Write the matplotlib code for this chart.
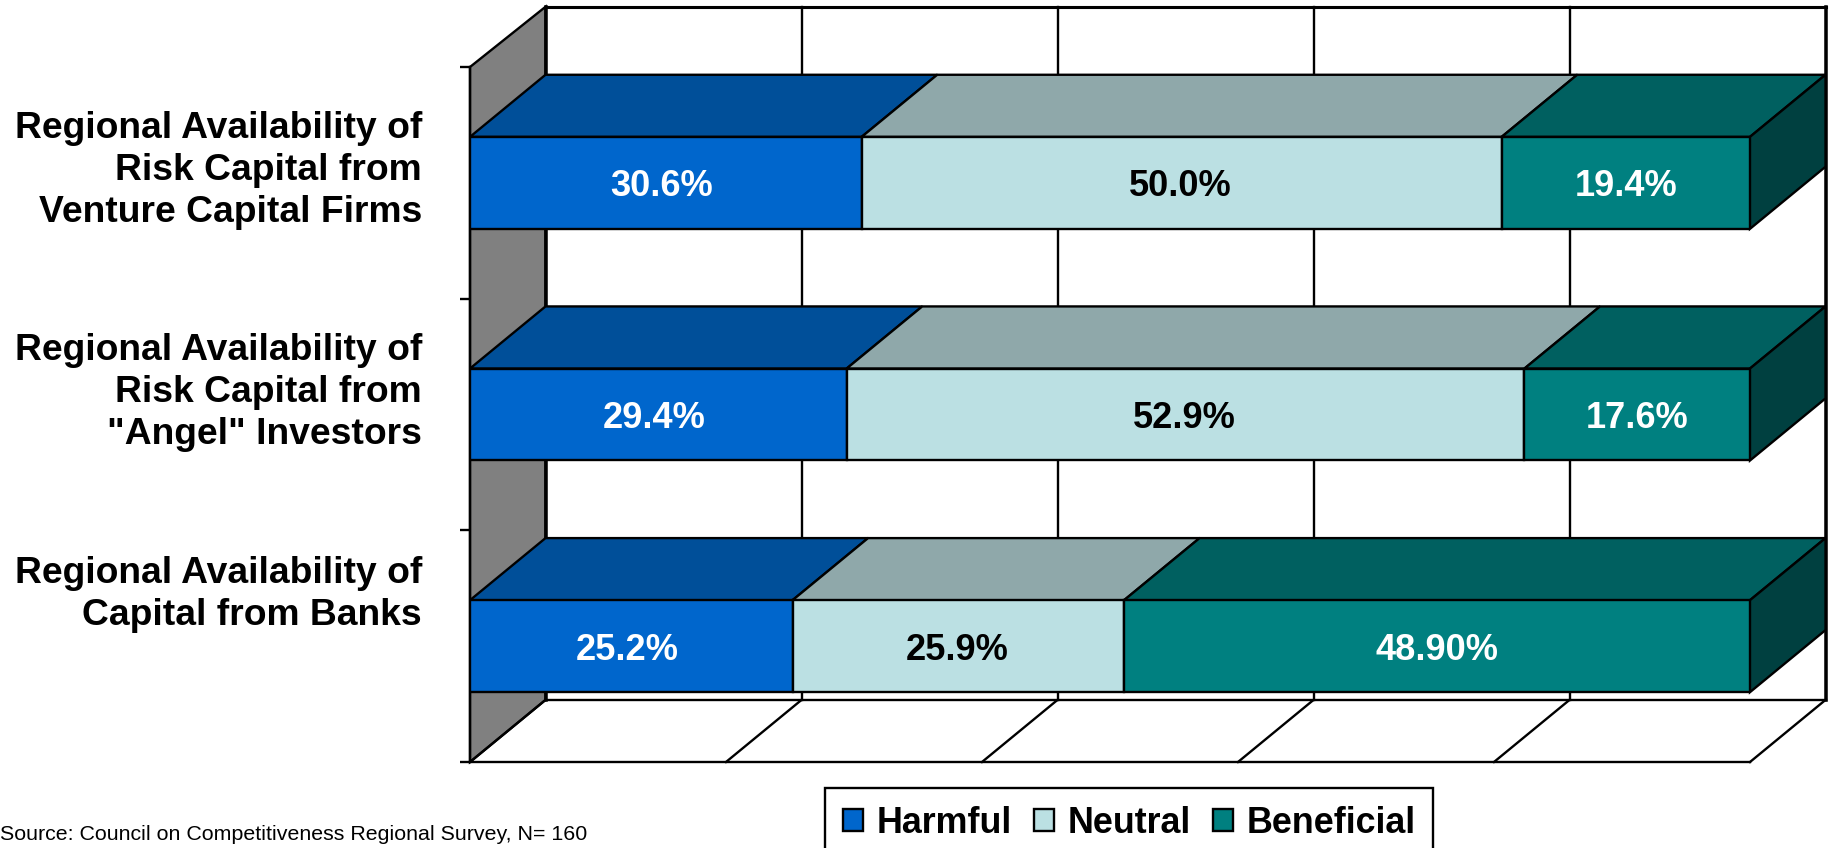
#!/usr/bin/env python
"""
Stacked 3D-look bar chart of how regional capital availability is rated
"""

import matplotlib
matplotlib.use("Agg")
import matplotlib.pyplot as plt
from matplotlib.patches import Polygon, Patch

# data, bottom row first
categories = ["Regional Availability of\nCapital from Banks",
              "Regional Availability of\nRisk Capital from\n\"Angel\" Investors",
              "Regional Availability of\nRisk Capital from\nVenture Capital Firms"]
harmful = [25.2, 29.4, 30.6]
neutral = [25.9, 52.9, 50.0]
beneficial = [48.9, 17.6, 19.4]
harmful_labels = ["25.2%", "29.4%", "30.6%"]
neutral_labels = ["25.9%", "52.9%", "50.0%"]
beneficial_labels = ["48.90%", "17.6%", "19.4%"]
series_names = ["Harmful", "Neutral", "Beneficial"]
percent_ticks = [0, 20, 40, 60, 80, 100]

# colours per series: front, top, text
FRONT = ["#0066CC", "#BBE0E3", "#008080"]
TOP = ["#004F99", "#8FA8AA", "#006060"]
TEXT = ["white", "black", "white"]
SIDE = "#004040"
WALL = "#808080"
# small nudge of the value labels per series
LABEL_SHIFT = [-0.3, -0.12, 0]

# depth of the fake 3D box, in data units
DX = 5.9
DY = 0.268
WALL_TOP = 3.26
BAR_H = 0.397
LW = 1.7
FONT = "Liberation Sans"

W, H = 1831, 848
fig = plt.figure(figsize=(W / 100, H / 100), dpi=100, facecolor="white")
ax = fig.add_axes([470 / W, (H - 762) / H, 1280 / W, 695 / H])
ax.set_xlim(0, 100)
ax.set_ylim(0, 3)
ax.set_facecolor("none")

# axes frame, only left and bottom
ax.spines["top"].set_visible(False)
ax.spines["right"].set_visible(False)
ax.spines["left"].set_linewidth(LW)
ax.spines["bottom"].set_linewidth(LW)
ax.set_yticks([0, 1, 2, 3])
ax.set_yticklabels([])
ax.set_xticks(percent_ticks)
ax.set_xticklabels([])
ax.tick_params(axis="y", length=7.5, width=LW)
ax.tick_params(axis="x", length=0)


def poly(points, color, z):
    ax.add_patch(Polygon(points, closed=True, facecolor=color, edgecolor="black",
                         linewidth=LW, zorder=z, clip_on=False))


# left wall
poly([(0, 0), (DX, DY), (DX, WALL_TOP), (0, 3)], WALL, 1)
# back wall and floor lines
for t in percent_ticks:
    ax.plot([t + DX, t + DX], [DY, WALL_TOP], color="black", lw=LW * (1.5 if t in (0, 100) else 1),
            zorder=1.5, clip_on=False, solid_capstyle="projecting")
    ax.plot([t, t + DX], [0, DY], color="black", lw=LW, zorder=1.5, clip_on=False)
ax.plot([DX, 100 + DX], [WALL_TOP, WALL_TOP], color="black", lw=LW * 1.3, zorder=1.5, clip_on=False)
ax.plot([DX, 100 + DX], [DY, DY], color="black", lw=LW, zorder=1.5, clip_on=False)

# bars
series = [harmful, neutral, beneficial]
labels = [harmful_labels, neutral_labels, beneficial_labels]
for row in range(len(categories)):
    y = row + 0.5
    top = y + BAR_H / 2
    low = y - BAR_H / 2
    total = sum(s[row] for s in series)
    left = 0
    for k in range(len(series)):
        # stacked to 100 percent
        width = series[k][row] / total * 100
        poly([(left, top), (left + DX, top + DY), (left + width + DX, top + DY), (left + width, top)],
             TOP[k], 2)
        ax.barh(y, width, left=left, height=BAR_H, color=FRONT[k], edgecolor="black",
                linewidth=LW, zorder=3)
        ax.text(left + width / 2 + LABEL_SHIFT[k], y - 0.017, labels[k][row], color=TEXT[k],
                ha="center", va="center", fontsize=26.1, fontweight="bold", family=FONT, zorder=4)
        left += width
    poly([(100, low), (100 + DX, low + DY), (100 + DX, top + DY), (100, top)], SIDE, 2)

# category labels sit a little above the bar centres
label_y = [0.722, 1.596, 2.555]
for yy, name in zip(label_y, categories):
    ax.text(-3.75, yy, name, ha="right", va="center", fontsize=26.8, fontweight="bold",
            family=FONT, linespacing=1.26, color="black")

fig.text(0, (H - 834) / H, "Source: Council on Competitiveness Regional Survey, N= 160",
         ha="left", va="center", fontsize=15.4, family=FONT, color="black")

handles = [Patch(facecolor=c, edgecolor="black", linewidth=LW, label=n)
           for c, n in zip(FRONT, series_names)]
leg = fig.legend(handles=handles, ncol=3, loc="upper left",
                 bbox_to_anchor=(825.5 / W, (H - 788) / H), borderaxespad=0,
                 frameon=True, fancybox=False, edgecolor="black", framealpha=1,
                 prop={"family": FONT, "weight": "bold", "size": 25.8},
                 handlelength=0.55, handleheight=0.55, handletextpad=0.38,
                 columnspacing=0.62, borderpad=0.5)
leg.get_frame().set_linewidth(LW)

fig.savefig("out.png", dpi=100, facecolor="white")
